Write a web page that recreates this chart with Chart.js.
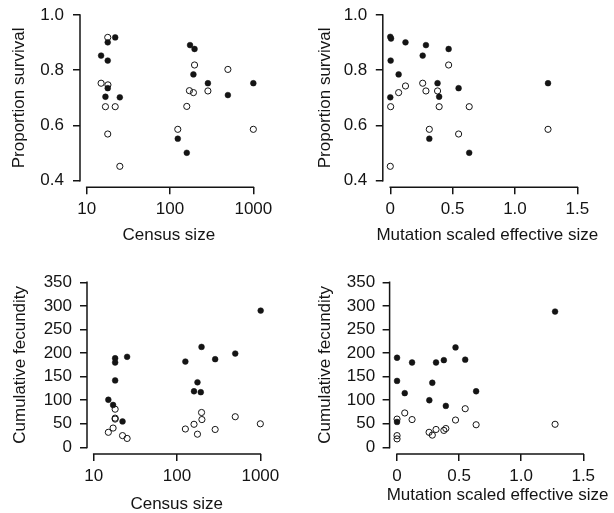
<!DOCTYPE html>
<html><head><meta charset="utf-8">
<script src="https://cdn.jsdelivr.net/npm/chart.js@4.4.1/dist/chart.umd.min.js"></script>
<style>
html,body{margin:0;padding:0;background:#fff;}
#wrap{position:relative;width:614px;height:513px;overflow:hidden;background:#fff;}
canvas{position:absolute;}
</style></head><body><div id="wrap">
<canvas id="c1" width="307" height="256" style="left:0px;top:0px"></canvas>
<canvas id="c2" width="307" height="256" style="left:307px;top:0px"></canvas>
<canvas id="c3" width="307" height="257" style="left:0px;top:256px"></canvas>
<canvas id="c4" width="307" height="257" style="left:307px;top:256px"></canvas>
</div>
<script>
// ---- tick values and labels ----
const survivalTicks = [0.4, 0.6, 0.8, 1.0];
const survivalTickLabels = ['0.4', '0.6', '0.8', '1.0'];
const fecundityTicks = [0, 50, 100, 150, 200, 250, 300, 350];
const fecundityTickLabels = ['0', '50', '100', '150', '200', '250', '300', '350'];
const censusTicks = [10, 100, 1000];
const censusTickLabels = ['10', '100', '1000'];
const neTicks = [0, 0.5, 1.0, 1.5];
const neTickLabels = ['0', '0.5', '1.0', '1.5'];

// ---- panel A: census size vs proportion survival ----
const censusSurvFilledX = [22, 17.9, 14.9, 17.9, 17.9, 16.8, 25, 174, 197, 191, 285, 495, 1000, 124, 159];
const censusSurvFilledY = [0.919, 0.901, 0.853, 0.835, 0.735, 0.704, 0.702, 0.891, 0.877, 0.785, 0.753, 0.710, 0.753, 0.552, 0.501];
const censusSurvOpenX = [17.9, 14.9, 18, 16.8, 22, 17.9, 25, 197, 171, 191, 285, 495, 159, 124, 1000];
const censusSurvOpenY = [0.919, 0.753, 0.747, 0.668, 0.668, 0.569, 0.452, 0.819, 0.726, 0.719, 0.725, 0.803, 0.669, 0.586, 0.586];

// ---- panel B: mutation scaled effective size vs proportion survival ----
const neSurvFilledX = [0.0, 0.006, 0.122, 0.286, 0.26, 0.468, 0.003, 0.067, 0.379, 0.548, 0.392, 0.0, 0.313, 0.633, 1.265];
const neSurvFilledY = [0.921, 0.915, 0.901, 0.891, 0.853, 0.877, 0.835, 0.785, 0.753, 0.735, 0.704, 0.702, 0.552, 0.501, 0.753];
const neSurvOpenX = [0.003, 0.0, 0.067, 0.122, 0.26, 0.286, 0.379, 0.392, 0.468, 0.313, 0.548, 0.633, 1.265];
const neSurvOpenY = [0.668, 0.452, 0.719, 0.743, 0.753, 0.725, 0.725, 0.668, 0.819, 0.586, 0.569, 0.668, 0.586];

// ---- panel C: census size vs cumulative fecundity ----
const censusFecFilledX = [15.0, 17.1, 18.1, 18.1, 18.1, 22.2, 25.2, 126, 160, 176, 197, 193, 287, 500, 1010];
const censusFecFilledY = [101, 90, 189, 180, 142, 55, 192, 182, 119, 138, 213, 117, 187, 199, 290];
const censusFecOpenX = [15.0, 17.1, 18.1, 18.1, 18.1, 22.2, 25.2, 126, 160, 176, 197, 199, 287, 500, 1000];
const censusFecOpenY = [32, 41, 62, 60, 81, 25, 19, 39, 49, 28, 74, 59, 38, 65, 50];

// ---- panel D: mutation scaled effective size vs cumulative fecundity ----
const neFecFilledX = [0, 0, 0, 0.062, 0.121, 0.26, 0.284, 0.314, 0.377, 0.393, 0.471, 0.549, 0.637, 1.273];
const neFecFilledY = [190, 141, 54, 115, 180, 100, 137, 180, 185, 88, 212, 186, 119, 288];
const neFecOpenX = [0, 0, 0, 0.062, 0.121, 0.258, 0.284, 0.314, 0.377, 0.393, 0.471, 0.549, 0.637, 1.273];
const neFecOpenY = [60, 25, 18, 73, 59, 32, 26, 38, 36, 40, 58, 82, 48, 49];

const INK = '#141414';
const FONT = {family: "'Liberation Sans', Arial, Helvetica, sans-serif", size: 17, lineHeight: 1};

function pts(xs, ys) { return xs.map((x, i) => ({x: x, y: ys[i]})); }

const axisLines = {
  id: 'axisLines',
  afterDraw(chart) {
    const {ctx, chartArea} = chart;
    const xs = chart.scales.x, ys = chart.scales.y;
    ctx.save();
    ctx.strokeStyle = INK;
    ctx.lineWidth = 1.5;
    ctx.lineCap = 'square';
    ctx.beginPath();
    ctx.moveTo(xs.getPixelForValue(xs.ticks[0].value), chartArea.bottom);
    ctx.lineTo(xs.getPixelForValue(xs.ticks[xs.ticks.length - 1].value), chartArea.bottom);
    ctx.moveTo(chartArea.left, ys.getPixelForValue(ys.ticks[0].value));
    ctx.lineTo(chartArea.left, ys.getPixelForValue(ys.ticks[ys.ticks.length - 1].value));
    ctx.stroke();
    ctx.restore();
  }
};

// x-axis title drawn at full width (Chart.js would squeeze it to the scale width)
const xTitleText = {
  id: 'xTitleText',
  afterDraw(chart, args, opts) {
    const ctx = chart.ctx;
    ctx.save();
    ctx.font = FONT.size + 'px ' + FONT.family;
    ctx.fillStyle = INK;
    ctx.textAlign = 'center';
    ctx.textBaseline = 'middle';
    ctx.fillText(opts.text, opts.x, opts.y);
    ctx.restore();
  }
};

function gridOpts() {
  return {display: true, drawOnChartArea: false, drawTicks: true, tickLength: 7, color: INK, lineWidth: 1.5};
}

function makeChart(id, p) {
  return new Chart(document.getElementById(id), {
    type: 'scatter',
    data: {datasets: [
      {data: p.filled, pointRadius: 2.9, pointBackgroundColor: INK, pointBorderColor: INK, pointBorderWidth: 0.5},
      {data: p.open, pointRadius: 3.1, pointBackgroundColor: 'rgba(0,0,0,0)', pointBorderColor: INK, pointBorderWidth: 1}
    ]},
    options: {
      responsive: false, animation: false, events: [],
      layout: {padding: {left: 0, top: p.area.t, right: p.w - p.area.r, bottom: 0}},
      plugins: {legend: {display: false}, tooltip: {enabled: false},
        xTitleText: {text: p.xTitle, x: p.xTitleX, y: p.xTitleY}},
      scales: {
        x: {
          type: p.xType, min: p.xMin, max: p.xMax,
          afterBuildTicks: s => { s.ticks = p.xTicks.map(v => ({value: v})); },
          afterFit: s => { s.height = p.h - p.area.b; s.paddingLeft = 0; s.paddingRight = 0; },
          ticks: {callback: (v, i) => p.xLabels[i], font: FONT, color: INK, padding: p.xTickPad, autoSkip: false, maxRotation: 0, minRotation: 0},
          grid: gridOpts(), border: {display: false},
          title: {display: false}
        },
        y: {
          type: 'linear', min: p.yMin, max: p.yMax,
          afterBuildTicks: s => { s.ticks = p.yTicks.map(v => ({value: v})); },
          afterFit: s => { s.width = p.area.l; s.paddingTop = 0; s.paddingBottom = 0; },
          ticks: {callback: (v, i) => p.yLabels[i], font: FONT, color: INK, padding: p.yTickPad, autoSkip: false},
          grid: gridOpts(), border: {display: false},
          title: {display: true, text: p.yTitle, font: FONT, color: INK, padding: {top: p.yTitlePad, bottom: 0}}
        }
      }
    },
    plugins: [axisLines, xTitleText]
  });
}

makeChart('c1', {
  w: 307, h: 256, area: {l: 80, t: 8.4, r: 260, b: 187.3},
  filled: pts(censusSurvFilledX, censusSurvFilledY), open: pts(censusSurvOpenX, censusSurvOpenY),
  xType: 'logarithmic', xMin: Math.pow(10, 0.92), xMax: Math.pow(10, 3.08), xTicks: censusTicks, xLabels: censusTickLabels,
  yMin: 0.376, yMax: 1.024, yTicks: survivalTicks, yLabels: survivalTickLabels,
  xTitle: 'Census size', yTitle: 'Proportion survival',
  xTickPad: 6.5, yTickPad: 9, xTitleX: 168.8, xTitleY: 235, yTitlePad: 11.2
});
makeChart('c2', {
  w: 307, h: 256, area: {l: 75.8, t: 8.4, r: 277.8, b: 187.3},
  filled: pts(neSurvFilledX, neSurvFilledY), open: pts(neSurvOpenX, neSurvOpenY),
  xType: 'linear', xMin: -0.06, xMax: 1.56, xTicks: neTicks, xLabels: neTickLabels,
  yMin: 0.376, yMax: 1.024, yTicks: survivalTicks, yLabels: survivalTickLabels,
  xTitle: 'Mutation scaled effective size', yTitle: 'Proportion survival',
  xTickPad: 6.5, yTickPad: 8.5, xTitleX: 180.3, xTitleY: 235, yTitlePad: 9.8
});
makeChart('c3', {
  w: 307, h: 257, area: {l: 87, t: 19.7, r: 267, b: 198},
  filled: pts(censusFecFilledX, censusFecFilledY), open: pts(censusFecOpenX, censusFecOpenY),
  xType: 'logarithmic', xMin: Math.pow(10, 0.92), xMax: Math.pow(10, 3.08), xTicks: censusTicks, xLabels: censusTickLabels,
  yMin: -14, yMax: 364, yTicks: fecundityTicks, yLabels: fecundityTickLabels,
  xTitle: 'Census size', yTitle: 'Cumulative fecundity',
  xTickPad: 7, yTickPad: 8, xTitleX: 176.7, xTitleY: 248.3, yTitlePad: 11.5
});
makeChart('c4', {
  w: 307, h: 257, area: {l: 82.6, t: 19.7, r: 283.7, b: 198},
  filled: pts(neFecFilledX, neFecFilledY), open: pts(neFecOpenX, neFecOpenY),
  xType: 'linear', xMin: -0.06, xMax: 1.56, xTicks: neTicks, xLabels: neTickLabels,
  yMin: -14, yMax: 364, yTicks: fecundityTicks, yLabels: fecundityTickLabels,
  xTitle: 'Mutation scaled effective size', yTitle: 'Cumulative fecundity',
  xTickPad: 7, yTickPad: 7.5, xTitleX: 190.5, xTitleY: 239.3, yTitlePad: 10.2
});
</script></body></html>
